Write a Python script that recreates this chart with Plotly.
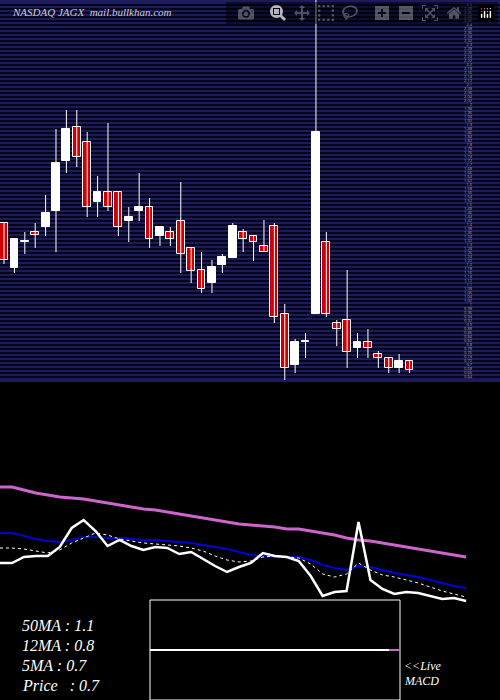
import plotly.graph_objects as go

opens  = [1.41,1.185,1.315,1.365,1.39,1.47,1.72,1.89,1.815,1.515,1.565,1.565,1.42,1.47,1.49,1.345,1.365,1.42,1.285,1.175,1.11,1.20,1.235,1.365,1.345,1.295,1.395,0.955,0.70,0.815,0.955,1.315,0.91,0.925,0.785,0.815,0.755,0.735,0.685,0.72]
closes = [1.225,1.33,1.315,1.35,1.46,1.71,1.88,1.74,1.49,1.565,1.49,1.39,1.44,1.49,1.33,1.39,1.33,1.255,1.17,1.08,1.19,1.24,1.395,1.33,1.315,1.265,0.94,0.685,0.815,0.815,1.865,0.955,0.88,0.765,0.815,0.785,0.735,0.685,0.72,0.675]
highs  = [1.41,1.33,1.365,1.41,1.55,1.88,1.975,1.975,1.865,1.645,1.91,1.565,1.49,1.66,1.535,1.39,1.39,1.615,1.285,1.265,1.225,1.255,1.41,1.38,1.345,1.425,1.41,1.005,0.83,0.86,2.7,1.365,0.925,1.175,0.86,0.88,0.77,0.735,0.755,0.72]
lows   = [1.205,1.16,1.255,1.285,1.345,1.265,1.66,1.69,1.44,1.44,1.47,1.345,1.315,1.42,1.285,1.295,1.295,1.16,1.11,1.06,1.06,1.16,1.235,1.265,1.22,1.265,0.91,0.625,0.66,0.735,0.955,0.94,0.795,0.685,0.735,0.735,0.685,0.66,0.66,0.66]

price_line = [.57,.57,.63,.64,.64,.73,.92,1.00,.89,.74,.80,.74,.70,.73,.72,.66,.68,.61,.54,.48,.53,.57,.67,.64,.63,.59,.44,.24,.28,.29,.98,.40,.31,.26,.28,.27,.24,.21,.22,.19]
ma12 = [.87,.87,.84,.81,.79,.78,.80,.83,.83,.82,.82,.81,.80,.80,.79,.78,.77,.75,.73,.71,.68,.65,.64,.63,.63,.63,.60,.55,.52,.50,.54,.53,.50,.47,.45,.43,.40,.37,.34,.32]
ma50 = [1.33,1.33,1.30,1.27,1.25,1.23,1.22,1.21,1.19,1.17,1.15,1.13,1.11,1.10,1.08,1.06,1.04,1.02,1.00,.98,.96,.95,.94,.93,.91,.91,.89,.87,.85,.82,.80,.79,.77,.75,.73,.71,.69,.67,.65,.63]
ma5 = [.72,.72,.71,.69,.67,.70,.77,.82,.87,.85,.81,.79,.77,.76,.75,.74,.72,.69,.64,.60,.58,.59,.63,.64,.63,.62,.56,.46,.43,.46,.57,.50,.45,.43,.40,.37,.33,.29,.26,.23]

labels = ["50MA : 1.1", "12MA : 0.8", "5MA : 0.7", "Price   : 0.7"]

idx = list(range(len(opens)))
fig = go.Figure()
# wicks
wx, wy = [], []
for i in idx:
    wx += [i, i, None]
    wy += [lows[i], highs[i], None]
fig.add_trace(go.Scatter(x=wx, y=wy, mode="lines", line=dict(color="white", width=1), showlegend=False, xaxis="x", yaxis="y"))
# bodies
base = [min(o, c) for o, c in zip(opens, closes)]
hgt = [max(abs(c - o), 0.004) for o, c in zip(opens, closes)]
cols = ["white" if c >= o else "#cc0000" for o, c in zip(opens, closes)]
fig.add_trace(go.Bar(x=idx, y=hgt, base=base, width=0.75, marker=dict(color=cols, line=dict(color="white", width=1)),
                     showlegend=False, xaxis="x", yaxis="y"))
li = list(range(len(price_line)))
fig.add_trace(go.Scatter(x=li, y=ma50, mode="lines", line=dict(color="#cc66cc", width=3), xaxis="x2", yaxis="y2", showlegend=False))
fig.add_trace(go.Scatter(x=li, y=ma12, mode="lines", line=dict(color="#0000dd", width=2), xaxis="x2", yaxis="y2", showlegend=False))
fig.add_trace(go.Scatter(x=li, y=ma5, mode="lines", line=dict(color="white", width=1, dash="dot"), xaxis="x2", yaxis="y2", showlegend=False))
fig.add_trace(go.Scatter(x=li, y=price_line, mode="lines", line=dict(color="white", width=2.5), xaxis="x2", yaxis="y2", showlegend=False))

top0 = (700 - 382) / 700
fig.update_layout(
    width=500, height=700, margin=dict(l=0, r=0, t=0, b=0),
    paper_bgcolor="black", plot_bgcolor="black", bargap=0,
    xaxis=dict(domain=[0, 1], range=[-0.385, 47.7], visible=False),
    yaxis=dict(domain=[top0, 1], range=[0.615, 2.525], dtick=0.02, tick0=0.6, gridcolor="#05051a", gridwidth=1.5,
               showline=False, zeroline=False, side="right", ticklabelposition="inside",
               tickfont=dict(size=4, color="#aaaaaa"), ticklabelstandoff=25),
    xaxis2=dict(domain=[0, 1], range=[0, 41.84], visible=False, anchor="y2"),
    yaxis2=dict(domain=[0, top0], range=[-0.8, 2.38], visible=False, anchor="x2"),
    shapes=[
        dict(type="rect", xref="paper", yref="paper", x0=0, x1=1, y0=top0, y1=1,
             fillcolor="#1b1b5e", line=dict(width=0), layer="below"),
        dict(type="rect", xref="paper", yref="paper", x0=150/500, x1=400/500, y0=0, y1=100/700,
             line=dict(color="white", width=1)),
        dict(type="line", xref="paper", yref="paper", x0=150/500, x1=389/500, y0=50/700, y1=50/700,
             line=dict(color="white", width=2)),
        dict(type="line", xref="paper", yref="paper", x0=389/500, x1=400/500, y0=50/700, y1=50/700,
             line=dict(color="#cc66cc", width=2)),
    ],
)
fnt = "Liberation Serif"
fig.add_annotation(text="<i>NASDAQ JAGX  mail.bullkhan.com</i>", x=10/500, y=1-12/700, xref="paper", yref="paper",
                   xanchor="left", yanchor="middle", showarrow=False, font=dict(family=fnt, size=11, color="#cccccc"))
for k, t in enumerate(labels):
    fig.add_annotation(text="<i>" + t + "</i>", x=20/500, y=(700 - (625 + 20 * k)) / 700, xref="paper", yref="paper",
                       xanchor="left", yanchor="middle", showarrow=False, font=dict(family=fnt, size=16, color="white"))
fig.add_annotation(text="<i>&lt;&lt;Live</i>", x=402/500, y=(700-666)/700, xref="paper", yref="paper",
                   xanchor="left", yanchor="middle", showarrow=False, font=dict(family=fnt, size=12, color="white"))
fig.add_annotation(text="<i>MACD</i>", x=402/500, y=(700-681)/700, xref="paper", yref="paper",
                   xanchor="left", yanchor="middle", showarrow=False, font=dict(family=fnt, size=12, color="white"))
fig.write_html("out.html")

with open("out.html", encoding="utf-8") as f:
    html = f.read()
html = html.replace("<body>", '<body style="margin:0;background:black">', 1)
with open("out.html", "w", encoding="utf-8") as f:
    f.write(html)
